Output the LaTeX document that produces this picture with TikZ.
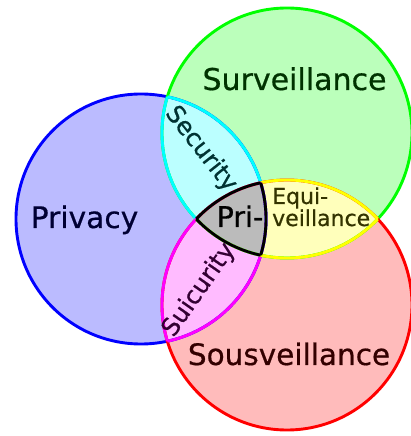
\documentclass[tikz,border=0pt]{standalone}
\usepackage{fontspec}
\setmainfont{DejaVu Sans}[BoldFont={DejaVu Sans}, BoldFeatures={FakeBold=0.6}]
\usetikzlibrary{positioning}
\definecolor{privfill}{HTML}{BBBBFF}
\definecolor{survfill}{HTML}{BBFFBB}
\definecolor{sousfill}{HTML}{FFBBBB}
\definecolor{secfill}{HTML}{BBFFFF}
\definecolor{suifill}{HTML}{FFBBFF}
\definecolor{equifill}{HTML}{FFFFBB}
\definecolor{prifill}{HTML}{BBBBBB}
\definecolor{privline}{HTML}{0000FF}
\definecolor{survline}{HTML}{00FF00}
\definecolor{sousline}{HTML}{FF0000}
\definecolor{secline}{HTML}{00FFFF}
\definecolor{suiline}{HTML}{FF00FF}
\definecolor{equiline}{HTML}{FFFF00}
\newcommand{\vennrad}{125pt}

\begin{document}
\begin{tikzpicture}[x=1pt, y=1pt,
    ring/.style={line width=2.9pt},
    venntext/.style={font=\fontsize{#1}{#1}\selectfont\bfseries, inner sep=0pt}]
  \useasboundingbox (0,0) rectangle (411,436);

  % circle centres
  \coordinate (priv) at (141,217);
  \coordinate (surv) at (287,303);
  \coordinate (sous) at (287,131);

  % base fills
  \fill[privfill] (priv) circle (\vennrad);
  \fill[survfill] (surv) circle (\vennrad);
  \fill[sousfill] (sous) circle (\vennrad);

  % pairwise overlaps
  \begin{scope}
    \clip (priv) circle (\vennrad);
    \fill[secfill] (surv) circle (\vennrad);
    \fill[suifill] (sous) circle (\vennrad);
  \end{scope}
  \begin{scope}
    \clip (surv) circle (\vennrad);
    \fill[equifill] (sous) circle (\vennrad);
    \clip (sous) circle (\vennrad);
    \fill[prifill] (priv) circle (\vennrad);
  \end{scope}

  % outer rings
  \draw[ring, privline] (priv) circle (\vennrad);
  \draw[ring, survline] (surv) circle (\vennrad);
  \draw[ring, sousline] (sous) circle (\vennrad);

  % lens borders
  \begin{scope}
    \clip (surv) circle (\vennrad);
    \draw[ring, secline] (priv) circle (\vennrad);
    \draw[ring, equiline] (sous) circle (\vennrad);
  \end{scope}
  \begin{scope}
    \clip (priv) circle (\vennrad);
    \draw[ring, secline] (surv) circle (\vennrad);
    \draw[ring, suiline] (sous) circle (\vennrad);
  \end{scope}
  \begin{scope}
    \clip (sous) circle (\vennrad);
    \draw[ring, suiline] (priv) circle (\vennrad);
    \draw[ring, equiline] (surv) circle (\vennrad);
  \end{scope}

  % centre border
  \begin{scope}
    \clip (priv) circle (\vennrad);
    \clip (surv) circle (\vennrad);
    \draw[ring, black] (sous) circle (\vennrad);
  \end{scope}
  \begin{scope}
    \clip (priv) circle (\vennrad);
    \clip (sous) circle (\vennrad);
    \draw[ring, black] (surv) circle (\vennrad);
  \end{scope}
  \begin{scope}
    \clip (surv) circle (\vennrad);
    \clip (sous) circle (\vennrad);
    \draw[ring, black] (priv) circle (\vennrad);
  \end{scope}

  % labels
  \node[venntext=30, anchor=base, text=survline!20!black] (survlabel) at (294.5,346) {Surveillance};
  \node[venntext=29.7, anchor=base, text=privline!20!black] (privlabel) at (84.5,208) {Privacy};
  \node[venntext=29.5, anchor=base, text=sousline!20!black] (souslabel) at (289,71) {Sousveillance};
  \node[venntext=28.5, anchor=base] (prilabel) at (240,209) {Pri-};
  \node[venntext=22, anchor=base west, align=left, text=equiline!20!black] (equilabel) at (272,210) {Equi-\\veillance};
  \node[venntext=24.5, rotate=-52, text=secline!20!black] (seclabel) at (201,287) {Security};
  \node[venntext=24.5, rotate=55, text=suiline!20!black] (suilabel) at (199,146) {Suicurity};
\end{tikzpicture}
\end{document}
